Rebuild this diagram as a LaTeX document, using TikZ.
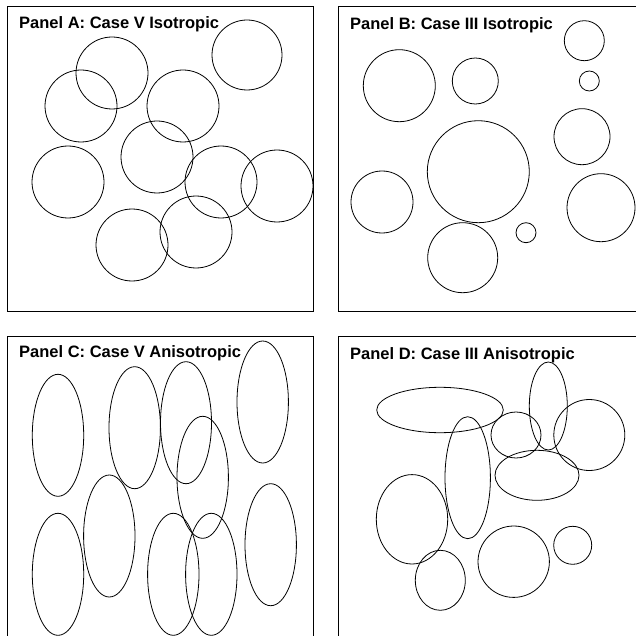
\documentclass[tikz,border=0pt]{standalone}
\usepackage{fontspec}
\setmainfont{Liberation Sans}

\begin{document}
\begin{tikzpicture}[
  x=1pt, y=-1pt,
  frame/.style={line width=1pt},
  grain/.style={line width=0.8pt},
  title/.style={anchor=base west, inner sep=0pt, font=\fontsize{16.5}{18}\selectfont\bfseries}
]
\useasboundingbox (0,0) rectangle (636,636);

% Panel A
\draw[frame] (7,7) rectangle (313,311);
\node[title] (titleA) at (19,29) {Panel A: Case V Isotropic};
\draw[grain] (247,55) circle (35);
\draw[grain] (112,73) circle (36);
\draw[grain] (81,106) circle (36);
\draw[grain] (183,106) circle (36);
\draw[grain] (157,157) circle (36);
\draw[grain] (68,182) circle (36);
\draw[grain] (221,182) circle (36);
\draw[grain] (277,186) circle (36);
\draw[grain] (196,232) circle (36);
\draw[grain] (132,245) circle (36);

% Panel B
\draw[frame] (636,7) -- (338.7,7) -- (338.7,311) -- (636,311);
\node[title] (titleB) at (350,29.5) {Panel B: Case III Isotropic};
\draw[grain] (584.3,40.7) circle (20);
\draw[grain] (589.3,81) circle (10);
\draw[grain] (399.3,85.7) circle (36);
\draw[grain] (475.3,81) circle (23);
\draw[grain] (582,136.7) circle (28);
\draw[grain] (478.3,171.7) circle (51);
\draw[grain] (382,202) circle (31);
\draw[grain] (601,207.7) circle (34);
\draw[grain] (526,232.7) circle (10);
\draw[grain] (462.7,257.7) circle (35);

% Panel C
\draw[frame] (7,636) -- (7,336.7) -- (313,336.7) -- (313,636);
\node[title] (titleC) at (19,357) {Panel C: Case V Anisotropic};
\draw[grain] (58,435.3) ellipse (25.7 and 61);
\draw[grain] (134.7,427.7) ellipse (25.7 and 61);
\draw[grain] (186,422.7) ellipse (25.5 and 61);
\draw[grain] (262.7,402) ellipse (25.7 and 61);
\draw[grain] (202.7,477.3) ellipse (25.7 and 61);
\draw[grain] (109.3,536) ellipse (25.7 and 61);
\draw[grain] (58,574.3) ellipse (25.7 and 61);
\draw[grain] (173.3,574.3) ellipse (25.7 and 61);
\draw[grain] (211.3,574.3) ellipse (25.7 and 61);
\draw[grain] (270.7,544.7) ellipse (25.7 and 61);

% Panel D
\draw[frame] (636,336.7) -- (338.7,336.7) -- (338.7,636);
\node[title] (titleD) at (350,359) {Panel D: Case III Anisotropic};
\draw[grain] (440,410) ellipse (63.3 and 22.7);
\draw[grain] (467.7,477.7) ellipse (22.7 and 61);
\draw[grain] (516,435) ellipse (25 and 23);
\draw[grain] (548.3,406) ellipse (19 and 44);
\draw[grain] (589.3,435) circle (35.5);
\draw[grain] (537,475.3) ellipse (42 and 25);
\draw[grain] (412,519.3) ellipse (35.7 and 44.7);
\draw[grain] (440.3,580.3) ellipse (25 and 30);
\draw[grain] (513.7,561.7) circle (35.7);
\draw[grain] (572.7,545.3) circle (19);
\end{tikzpicture}
\end{document}
